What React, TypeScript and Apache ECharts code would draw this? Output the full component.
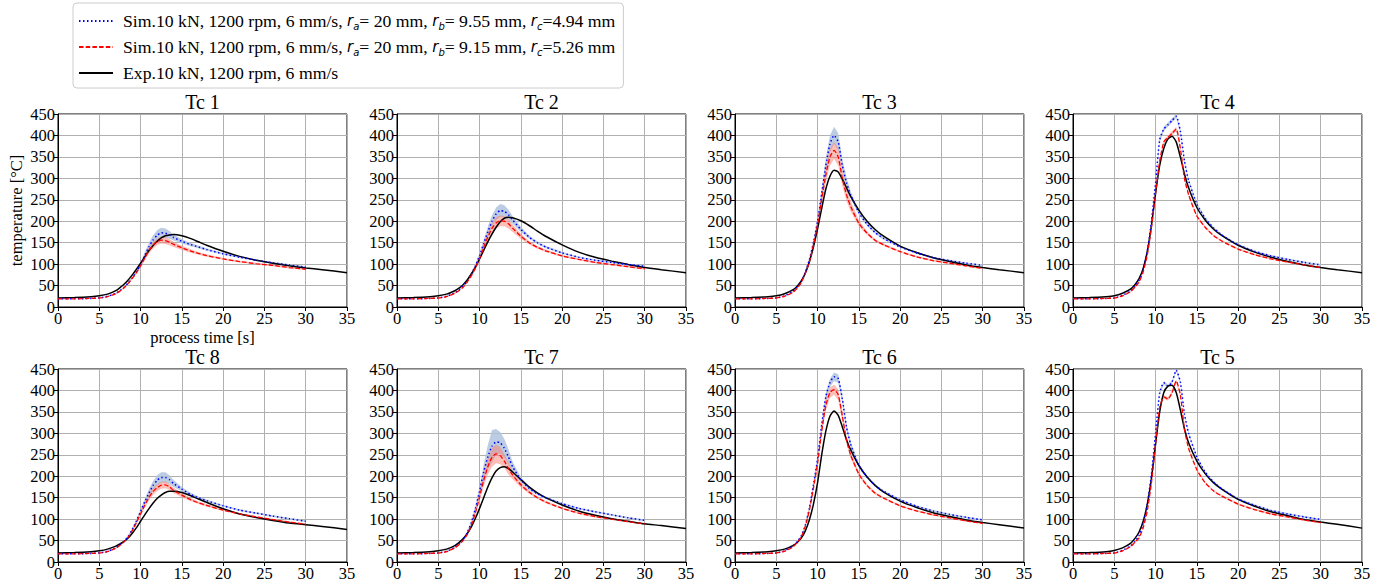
import React, { useEffect, useRef } from "react";
import * as echarts from "echarts";

// time samples (s)
const xSim = [0, 2, 4, 5, 6, 7, 7.5, 8, 8.5, 9, 9.5, 10, 10.5, 11, 11.5, 12, 12.5, 13, 13.5, 14, 15, 16, 17, 18, 20, 22, 24, 26, 28, 30];
const xExp = [0, 2, 4, 5, 6, 7, 7.5, 8, 8.5, 9, 9.5, 10, 10.5, 11, 11.5, 12, 12.5, 13, 13.5, 14, 15, 16, 17, 18, 20, 22, 24, 26, 28, 30, 32, 35];

const xTicks = [0, 5, 10, 15, 20, 25, 30, 35];
const yTicks = [0, 50, 100, 150, 200, 250, 300, 350, 400, 450];

// Tc 1
const tc1Exp = [21, 22, 24, 26, 30, 38, 45, 53, 63, 75, 88, 102, 117, 131, 143, 153, 161, 166, 168, 169, 166, 160, 152, 144, 130, 118, 109, 102, 96, 91, 87, 80];
const tc1Blue = [19, 19, 20, 21, 25, 32, 38, 46, 56, 68, 82, 99, 120, 140, 156, 167, 173, 172, 168, 162, 153, 146, 140, 134, 124, 116, 109, 103, 98, 93];
const tc1BlueSpread = [0, 0, 0, 0, 0, 1, 1, 1, 2, 2, 3, 5, 7, 9, 11, 12, 12, 11, 9, 7, 5, 4, 3, 3, 2, 2, 2, 2, 2, 2];
const tc1Red = [19, 19, 20, 21, 24, 31, 37, 45, 55, 67, 80, 96, 114, 131, 144, 152, 156, 155, 151, 146, 138, 131, 125, 120, 112, 106, 101, 97, 92, 88];
const tc1RedSpread = [0, 0, 0, 0, 0, 1, 1, 1, 2, 2, 3, 4, 6, 7, 8, 8, 8, 8, 7, 6, 5, 4, 3, 3, 2, 2, 2, 2, 2, 2];

// Tc 2
const tc2Exp = [21, 22, 24, 26, 30, 38, 44, 52, 63, 77, 93, 112, 132, 152, 170, 186, 199, 207, 209, 208, 201, 190, 177, 165, 145, 128, 116, 107, 99, 92, 87, 80];
const tc2Blue = [19, 19, 20, 21, 25, 33, 40, 49, 61, 77, 96, 120, 148, 175, 200, 217, 225, 223, 215, 203, 181, 163, 150, 140, 126, 116, 109, 104, 99, 95];
const tc2BlueSpread = [0, 0, 0, 0, 0, 1, 1, 1, 2, 3, 4, 6, 9, 12, 14, 15, 15, 14, 12, 9, 6, 4, 3, 3, 2, 2, 2, 2, 2, 2];
const tc2Red = [19, 19, 20, 21, 24, 32, 38, 46, 58, 73, 91, 113, 139, 163, 183, 196, 201, 200, 194, 184, 165, 150, 139, 131, 119, 111, 104, 99, 94, 89];
const tc2RedSpread = [0, 0, 0, 0, 0, 1, 1, 1, 2, 3, 4, 6, 8, 10, 12, 13, 13, 12, 11, 9, 6, 4, 3, 3, 2, 2, 2, 2, 2, 2];

// Tc 3
const tc3Exp = [21, 22, 24, 26, 31, 40, 48, 60, 78, 105, 140, 182, 230, 275, 305, 319, 315, 298, 278, 258, 226, 200, 180, 165, 142, 127, 115, 106, 98, 92, 87, 80];
const tc3Blue = [19, 19, 20, 21, 26, 36, 45, 58, 80, 110, 150, 200, 265, 330, 380, 400, 385, 330, 290, 262, 220, 193, 173, 160, 140, 126, 115, 108, 102, 97];
const tc3BlueSpread = [0, 0, 0, 0, 0, 1, 1, 2, 3, 4, 6, 8, 12, 18, 20, 20, 20, 15, 12, 8, 5, 4, 3, 3, 2, 2, 2, 2, 2, 2];
const tc3Red = [19, 19, 20, 21, 25, 34, 43, 56, 78, 105, 145, 192, 252, 308, 350, 365, 350, 300, 262, 235, 195, 172, 155, 145, 129, 117, 108, 102, 96, 90];
const tc3RedSpread = [0, 0, 0, 0, 0, 1, 1, 2, 3, 4, 6, 9, 14, 18, 20, 20, 20, 18, 15, 12, 7, 4, 3, 3, 2, 2, 2, 2, 2, 2];

// Tc 4
const tc4Exp = [21, 22, 24, 26, 32, 42, 52, 66, 90, 130, 190, 265, 330, 370, 392, 398, 385, 350, 310, 278, 232, 203, 182, 167, 144, 128, 116, 106, 98, 92, 87, 80];
const tc4Blue = [19, 19, 20, 21, 27, 38, 48, 62, 88, 130, 200, 290, 390, 415, 425, 435, 445, 410, 340, 295, 240, 207, 185, 168, 145, 130, 119, 111, 104, 98];
const tc4BlueSpread = [0, 0, 0, 0, 0, 1, 1, 1, 2, 3, 4, 5, 5, 5, 5, 5, 5, 5, 5, 4, 3, 3, 2, 2, 2, 2, 2, 2, 2, 2];
const tc4Red = [19, 19, 20, 21, 26, 36, 46, 58, 82, 122, 185, 265, 340, 385, 395, 405, 415, 370, 300, 262, 212, 186, 167, 154, 135, 122, 112, 105, 98, 92];
const tc4RedSpread = [0, 0, 0, 0, 0, 1, 1, 1, 2, 3, 4, 5, 5, 5, 5, 5, 5, 5, 5, 4, 3, 3, 2, 2, 2, 2, 2, 2, 2, 2];

// Tc 8
const tc8Exp = [21, 22, 24, 26, 30, 37, 42, 48, 56, 67, 80, 95, 110, 124, 137, 148, 156, 162, 165, 165, 162, 155, 147, 139, 124, 112, 104, 97, 91, 87, 83, 76];
const tc8Blue = [19, 19, 20, 21, 25, 33, 40, 48, 60, 76, 96, 118, 140, 160, 178, 190, 197, 197, 192, 183, 170, 158, 150, 143, 131, 121, 114, 107, 101, 95];
const tc8BlueSpread = [0, 0, 0, 0, 0, 1, 1, 1, 2, 3, 4, 5, 7, 9, 10, 12, 12, 12, 10, 8, 5, 4, 3, 3, 2, 2, 2, 2, 2, 2];
const tc8Red = [19, 19, 20, 21, 24, 32, 39, 47, 58, 73, 92, 112, 132, 150, 164, 173, 179, 180, 175, 167, 156, 146, 138, 132, 121, 112, 105, 99, 93, 88];
const tc8RedSpread = [0, 0, 0, 0, 0, 1, 1, 1, 2, 3, 4, 5, 6, 7, 8, 8, 8, 8, 7, 6, 5, 4, 3, 3, 2, 2, 2, 2, 2, 2];

// Tc 7
const tc7Exp = [21, 22, 24, 26, 30, 38, 45, 54, 66, 82, 102, 125, 150, 175, 196, 212, 220, 222, 218, 210, 192, 175, 161, 150, 133, 119, 109, 101, 95, 89, 85, 78];
const tc7Blue = [19, 19, 20, 21, 25, 34, 42, 52, 68, 92, 125, 165, 210, 245, 270, 280, 278, 265, 245, 222, 192, 172, 159, 150, 136, 125, 117, 110, 103, 97];
const tc7BlueSpread = [0, 0, 0, 0, 0, 1, 1, 2, 3, 5, 7, 10, 18, 28, 38, 30, 25, 22, 18, 12, 6, 4, 3, 3, 2, 2, 2, 2, 2, 2];
const tc7Red = [19, 19, 20, 21, 24, 33, 40, 50, 64, 86, 115, 152, 190, 222, 244, 252, 248, 235, 218, 203, 180, 163, 150, 140, 125, 114, 106, 100, 94, 89];
const tc7RedSpread = [0, 0, 0, 0, 0, 1, 1, 2, 3, 4, 6, 9, 13, 18, 22, 22, 20, 16, 14, 10, 6, 4, 3, 3, 2, 2, 2, 2, 2, 2];

// Tc 6
const tc6Exp = [21, 22, 24, 26, 30, 38, 45, 55, 72, 98, 135, 185, 250, 305, 340, 352, 342, 315, 285, 262, 225, 198, 178, 163, 142, 127, 115, 106, 98, 92, 87, 79];
const tc6Blue = [19, 19, 20, 21, 26, 37, 47, 60, 85, 125, 180, 240, 320, 385, 418, 432, 428, 380, 315, 275, 225, 198, 178, 165, 145, 130, 119, 111, 104, 98];
const tc6BlueSpread = [0, 0, 0, 0, 0, 1, 1, 2, 3, 4, 6, 8, 10, 10, 10, 10, 10, 10, 8, 6, 4, 3, 3, 2, 2, 2, 2, 2, 2, 2];
const tc6Red = [19, 19, 20, 21, 25, 35, 45, 57, 82, 120, 172, 230, 305, 365, 395, 402, 390, 340, 285, 250, 205, 178, 160, 149, 131, 119, 110, 103, 96, 90];
const tc6RedSpread = [0, 0, 0, 0, 0, 1, 1, 2, 3, 4, 6, 8, 10, 12, 12, 12, 12, 12, 10, 8, 5, 3, 3, 2, 2, 2, 2, 2, 2, 2];

// Tc 5
const tc5Exp = [21, 22, 24, 27, 33, 44, 55, 70, 95, 135, 195, 275, 350, 395, 410, 412, 395, 355, 310, 278, 235, 206, 185, 170, 146, 130, 117, 108, 99, 93, 88, 79];
const tc5Blue = [19, 19, 20, 21, 27, 38, 48, 62, 90, 135, 205, 300, 395, 418, 410, 420, 447, 420, 345, 300, 245, 210, 187, 171, 147, 132, 120, 112, 105, 99];
const tc5BlueSpread = [0, 0, 0, 0, 0, 1, 1, 1, 2, 2, 3, 3, 4, 4, 4, 4, 3, 4, 4, 3, 3, 2, 2, 2, 2, 2, 2, 2, 2, 2];
const tc5Red = [19, 19, 20, 21, 26, 36, 46, 56, 80, 120, 185, 275, 360, 385, 380, 395, 422, 390, 310, 265, 215, 185, 166, 154, 135, 122, 112, 105, 98, 92];
const tc5RedSpread = [0, 0, 0, 0, 0, 1, 1, 1, 2, 2, 3, 3, 4, 4, 4, 4, 4, 4, 4, 3, 3, 2, 2, 2, 2, 2, 2, 2, 2, 2];

const titles = ["Tc 1", "Tc 2", "Tc 3", "Tc 4", "Tc 8", "Tc 7", "Tc 6", "Tc 5"];
const expSeries = [tc1Exp, tc2Exp, tc3Exp, tc4Exp, tc8Exp, tc7Exp, tc6Exp, tc5Exp];
const blueSeries = [tc1Blue, tc2Blue, tc3Blue, tc4Blue, tc8Blue, tc7Blue, tc6Blue, tc5Blue];
const blueSpreads = [tc1BlueSpread, tc2BlueSpread, tc3BlueSpread, tc4BlueSpread, tc8BlueSpread, tc7BlueSpread, tc6BlueSpread, tc5BlueSpread];
const redSeries = [tc1Red, tc2Red, tc3Red, tc4Red, tc8Red, tc7Red, tc6Red, tc5Red];
const redSpreads = [tc1RedSpread, tc2RedSpread, tc3RedSpread, tc4RedSpread, tc8RedSpread, tc7RedSpread, tc6RedSpread, tc5RedSpread];

const legendNames = ["sim1", "sim2", "exp"];
const legendLabels: Record<string, string> = {
  sim1: "Sim.10 kN, 1200 rpm, 6 mm/s, {i|r}{s|a}= 20 mm, {i|r}{s|b}= 9.55 mm, {i|r}{s|c}=4.94 mm",
  sim2: "Sim.10 kN, 1200 rpm, 6 mm/s, {i|r}{s|a}= 20 mm, {i|r}{s|b}= 9.15 mm, {i|r}{s|c}=5.26 mm",
  exp: "Exp.10 kN, 1200 rpm, 6 mm/s",
};

const SERIF = "'Liberation Serif', 'Times New Roman', serif";
const COLS = [58, 397, 735, 1073];
const ROWS = [114, 369];
const GW = 289;
const GH = 193;
const SMOOTH = 0.2;

function bandSeries(i: number, mid: number[], spread: number[], color: string, z: number) {
  const lo = mid.map((v, k) => v - spread[k]);
  const hi = mid.map((v, k) => v + spread[k]);
  return {
    type: "custom",
    name: "band",
    xAxisIndex: i,
    yAxisIndex: i,
    silent: true,
    z,
    data: xSim.map((x, k) => [x, lo[k], hi[k]]),
    encode: { x: 0, y: [1, 2] },
    renderItem: (params: any, api: any) => {
      if (params.dataIndex !== 0) return null;
      const upper = xSim.map((x, k) => api.coord([x, hi[k]]));
      const lower = xSim.map((x, k) => api.coord([x, lo[k]])).reverse();
      return {
        type: "polygon",
        shape: { points: upper.concat(lower) },
        style: { fill: color, stroke: "none" },
        silent: true,
      };
    },
  };
}

function buildOption() {
  const grids: any[] = [];
  const xAxes: any[] = [];
  const yAxes: any[] = [];
  const series: any[] = [];
  const graphics: any[] = [];

  for (let i = 0; i < 8; i++) {
    const left = COLS[i % 4];
    const top = ROWS[Math.floor(i / 4)];
    grids.push({ left, top, width: GW, height: GH, show: true, borderColor: "#000", borderWidth: 1, backgroundColor: "transparent" });
    const first = i === 0;
    xAxes.push({
      type: "value", gridIndex: i, min: xTicks[0], max: xTicks[xTicks.length - 1], interval: 5,
      name: first ? "process time [s]" : "", nameLocation: "middle", nameGap: 22,
      nameTextStyle: { fontFamily: SERIF, fontSize: 16.5, color: "#000" },
      axisLine: { show: true, lineStyle: { color: "#000", width: 1 } },
      axisTick: { show: true, inside: false, length: 4, lineStyle: { color: "#000" } },
      axisLabel: { fontFamily: SERIF, fontSize: 16.5, color: "#000", margin: 3, showMinLabel: true, showMaxLabel: true, hideOverlap: false },
      splitLine: { show: true, lineStyle: { color: "#b0b0b0", width: 1 } },
    });
    yAxes.push({
      type: "value", gridIndex: i, min: yTicks[0], max: yTicks[yTicks.length - 1], interval: 50,
      name: first ? "temperature [°C]" : "", nameLocation: "middle", nameGap: 33,
      nameTextStyle: { fontFamily: SERIF, fontSize: 16.5, color: "#000" },
      axisLine: { show: true, lineStyle: { color: "#000", width: 1 } },
      axisTick: { show: true, inside: false, length: 4, lineStyle: { color: "#000" } },
      axisLabel: { fontFamily: SERIF, fontSize: 16.5, color: "#000", margin: 3, showMinLabel: true, showMaxLabel: true },
      splitLine: { show: true, lineStyle: { color: "#b0b0b0", width: 1 } },
    });
    graphics.push({
      type: "text", x: left + GW / 2, y: top - 12,
      style: { text: titles[i], align: "center", verticalAlign: "middle", fontFamily: SERIF, fontSize: 20, fill: "#000" },
    });

    const blue = blueSeries[i], bs = blueSpreads[i];
    const red = redSeries[i], rs = redSpreads[i];
    const exp = expSeries[i];
    const common = { type: "line", xAxisIndex: i, yAxisIndex: i, symbol: "none", showSymbol: false, smooth: SMOOTH, silent: true };

    series.push(bandSeries(i, blue, bs, "rgba(176,196,222,0.85)", 1));
    series.push(bandSeries(i, red, rs, "rgba(250,128,114,0.5)", 2));

    series.push({ ...common, name: "sim1", data: xSim.map((x, k) => [x, blue[k]]), lineStyle: { color: "#0000ff", width: 1.5, type: [1.5, 2.5] }, itemStyle: { color: "#0000ff" }, z: 4 });
    series.push({ ...common, name: "sim2", data: xSim.map((x, k) => [x, red[k]]), lineStyle: { color: "#ff0000", width: 1.3, type: [4.5, 2.2] }, itemStyle: { color: "#ff0000" }, z: 4 });
    series.push({ ...common, name: "exp", data: xExp.map((x, k) => [x, exp[k]]), lineStyle: { color: "#000000", width: 1.5, type: "solid" }, itemStyle: { color: "#000000" }, z: 3 });
  }

  return {
    animation: false,
    backgroundColor: "#fff",
    grid: grids,
    xAxis: xAxes,
    yAxis: yAxes,
    series,
    graphic: graphics,
    legend: {
      data: legendNames,
      left: 73, top: 3, orient: "vertical",
      itemWidth: 34, itemHeight: 14, itemGap: 6,
      padding: [8, 8, 5, 5],
      borderColor: "#cccccc", borderWidth: 1, borderRadius: 4, backgroundColor: "#fff",
      selectedMode: false,
      itemStyle: { opacity: 0 },
      formatter: (name: string) => legendLabels[name],
      textStyle: {
        fontFamily: SERIF, fontSize: 17.7, color: "#000", lineHeight: 20, padding: [0, 0, 0, 5],
        rich: {
          i: { fontFamily: "'DejaVu Sans'", fontStyle: "italic", fontSize: 15, lineHeight: 20, color: "#000" },
          s: { fontFamily: "'DejaVu Sans'", fontStyle: "italic", fontSize: 10, lineHeight: 10, verticalAlign: "bottom", color: "#000" },
        },
      },
    },
  };
}

export default function App() {
  const ref = useRef<HTMLDivElement>(null);
  useEffect(() => {
    if (!ref.current) return;
    const chart = echarts.init(ref.current, undefined, { renderer: "svg" });
    chart.setOption(buildOption() as any);
    return () => chart.dispose();
  }, []);
  return <div ref={ref} style={{ position: "fixed", left: 0, top: 0, width: 1384, height: 585, background: "#fff" }} />;
}
